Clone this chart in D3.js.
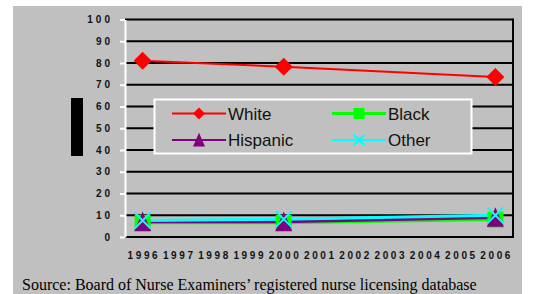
<!DOCTYPE html>
<html>
<head>
<meta charset="utf-8">
<script src="https://cdn.jsdelivr.net/npm/d3@7"></script>
<style>
  body { margin: 0; background: #fff; }
  svg { display: block; }
</style>
</head>
<body>
<svg id="chart" width="537" height="294"></svg>
<script>
// data
var years = ['1996', '1997', '1998', '1999', '2000', '2001', '2002', '2003', '2004', '2005', '2006'];
var dataYears = ['1996', '2000', '2006'];
var white = [81, 78.3, 73.6];
var black = [6.5, 6.5, 8];
var hispanic = [7, 7, 9];
var other = [7.6, 8.2, 10];
var yTicks = [0, 10, 20, 30, 40, 50, 60, 70, 80, 90, 100];

var series = [
    {name: 'White', values: white, color: '#ff0000', shape: 'diamond', width: 2},
    {name: 'Black', values: black, color: '#00ff00', shape: 'square', width: 3},
    {name: 'Hispanic', values: hispanic, color: '#800080', shape: 'triangle', width: 3},
    {name: 'Other', values: other, color: '#00ffff', shape: 'cross', width: 3}
];

var svg = d3.select('#chart');

// grey page panel
svg.append('rect')
    .attr('x', 13).attr('y', 6)
    .attr('width', 509).attr('height', 300)
    .attr('fill', '#c0c0c0');

// black block at left
svg.append('rect')
    .attr('x', 71).attr('y', 98)
    .attr('width', 12).attr('height', 58)
    .attr('fill', '#000');

var plot = {left: 125, right: 513, top: 19.5, bottom: 237};

var x = d3.scaleBand()
    .domain(years)
    .range([plot.left, plot.right]);

var y = d3.scaleLinear()
    .domain([0, 100])
    .range([plot.bottom, plot.top]);

// gridlines
svg.append('g')
    .selectAll('line')
    .data(yTicks)
    .enter()
    .append('line')
    .attr('x1', plot.left).attr('x2', plot.right)
    .attr('y1', function (d) { return y(d); })
    .attr('y2', function (d) { return y(d); })
    .attr('stroke', '#000')
    .attr('stroke-width', 2);

svg.append('line')
    .attr('x1', plot.right).attr('x2', plot.right)
    .attr('y1', plot.top - 1).attr('y2', plot.bottom + 1)
    .attr('stroke', '#000')
    .attr('stroke-width', 2);

// y axis
var yAxis = svg.append('g')
    .attr('transform', 'translate(' + plot.left + ',0)')
    .call(d3.axisLeft(y).tickValues(yTicks).tickSize(5).tickPadding(10).tickSizeOuter(0));
yAxis.select('.domain').attr('stroke', '#fff').attr('stroke-width', 2);
yAxis.selectAll('.tick line').attr('stroke', '#fff').attr('stroke-width', 2);
yAxis.selectAll('.tick text')
    .attr('fill', '#111')
    .style('font', 'bold 10px Arial, "Liberation Sans", sans-serif')
    .style('letter-spacing', '3px')
    .attr('dx', '3px');

// x axis labels
var xAxis = svg.append('g')
    .attr('transform', 'translate(0,' + plot.bottom + ')')
    .call(d3.axisBottom(x).tickSize(0).tickPadding(15));
xAxis.select('.domain').remove();
xAxis.selectAll('.tick text')
    .attr('fill', '#111')
    .style('font', 'bold 10px Arial, "Liberation Sans", sans-serif')
    .style('letter-spacing', '2.6px')
    .attr('dx', '1.3px');

function cx(d) { return x(d) + x.bandwidth() / 2; }

function drawMarker(g, shape, color, s) {
    if (shape === 'diamond') {
        g.append('path')
            .attr('d', 'M0,' + (-s) + 'L' + s + ',0L0,' + s + 'L' + (-s) + ',0Z')
            .attr('fill', color);
    } else if (shape === 'square') {
        g.append('rect')
            .attr('x', -s).attr('y', -s)
            .attr('width', 2 * s).attr('height', 2 * s)
            .attr('fill', color);
    } else if (shape === 'triangle') {
        g.append('path')
            .attr('d', 'M0,' + (-s * 1.2) + 'L' + s + ',' + (s * 1.1) + 'L' + (-s) + ',' + (s * 1.1) + 'Z')
            .attr('fill', color);
    } else {
        g.append('path')
            .attr('d', 'M' + (-s) + ',' + (-s) + 'L' + s + ',' + s + 'M' + s + ',' + (-s) + 'L' + (-s) + ',' + s)
            .attr('stroke', color)
            .attr('stroke-width', 2)
            .attr('fill', 'none');
    }
}

var markerSize = {diamond: 9, square: 8, triangle: 8.5, cross: 8};

var line = d3.line()
    .x(function (d, i) { return cx(dataYears[i]); })
    .y(function (d) { return y(d); });

series.forEach(function (s) {
    svg.append('path')
        .datum(s.values)
        .attr('d', line)
        .attr('fill', 'none')
        .attr('stroke', s.color)
        .attr('stroke-width', s.width);
});

series.forEach(function (s) {
    s.values.forEach(function (v, i) {
        var g = svg.append('g')
            .attr('transform', 'translate(' + cx(dataYears[i]) + ',' + y(v) + ')');
        drawMarker(g, s.shape, s.color, markerSize[s.shape]);
    });
});

// legend
var legend = svg.append('g');
legend.append('rect')
    .attr('x', 154.5).attr('y', 99.5)
    .attr('width', 317).attr('height', 54)
    .attr('fill', '#c0c0c0')
    .attr('stroke', '#fff')
    .attr('stroke-width', 2);

var legendPos = [[172, 113.5], [332, 113.5], [172, 140], [332, 140]];
var legendMarker = {diamond: 6, square: 5.5, triangle: 6, cross: 5.5};

series.forEach(function (s, i) {
    var p = legendPos[i];
    var item = legend.append('g')
        .attr('transform', 'translate(' + p[0] + ',' + p[1] + ')');
    item.append('line')
        .attr('x1', 0).attr('x2', 54)
        .attr('stroke', s.color)
        .attr('stroke-width', s.shape === 'square' ? 3 : 2);
    var m = item.append('g').attr('transform', 'translate(27,0)');
    drawMarker(m, s.shape, s.color, legendMarker[s.shape]);
    item.append('text')
        .attr('x', 56)
        .attr('y', 6)
        .attr('fill', '#111')
        .style('font', '17px Arial, "Liberation Sans", sans-serif')
        .text(s.name);
});

// source note
svg.append('text')
    .attr('x', 22)
    .attr('y', 290)
    .attr('fill', '#000')
    .style('font', '16px "Times New Roman", "Liberation Serif", serif')
    .text('Source: Board of Nurse Examiners\u2019 registered nurse licensing database');
</script>
</body>
</html>
